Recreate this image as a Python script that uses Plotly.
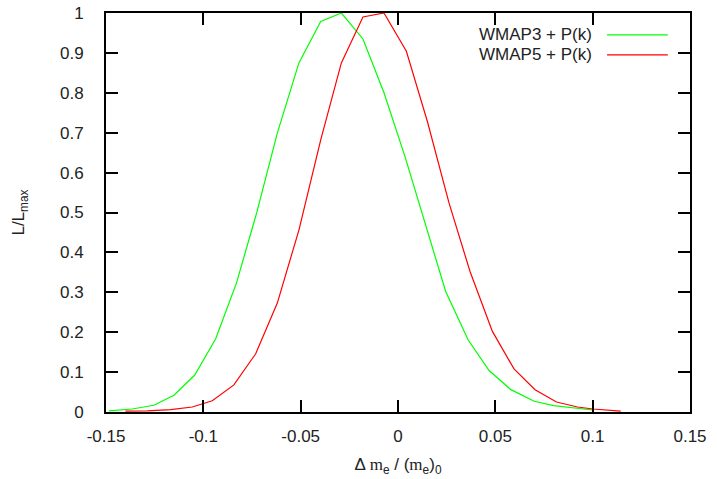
import plotly.graph_objects as go

# WMAP3 + P(k)  (green)
x_wmap3 = [-0.1485, -0.1365, -0.1254, -0.1151, -0.1045, -0.0937, -0.0830, -0.0726,
           -0.0620, -0.0509, -0.0397, -0.0291, -0.0180, -0.0072, 0.0036, 0.0145,
           0.0245, 0.0360, 0.0468, 0.0580, 0.0700, 0.0800, 0.0900, 0.0999]
y_wmap3 = [0.003, 0.0075, 0.017, 0.042, 0.092, 0.183, 0.323, 0.499,
           0.699, 0.875, 0.979, 1.0, 0.935, 0.800, 0.640, 0.465,
           0.302, 0.181, 0.104, 0.056, 0.027, 0.016, 0.010, 0.005]

# WMAP5 + P(k)  (red)
x_wmap5 = [-0.1400, -0.1288, -0.1168, -0.1057, -0.0954, -0.0843, -0.0731, -0.0620,
           -0.0509, -0.0397, -0.0291, -0.0180, -0.0072, 0.0043, 0.0151, 0.0262,
           0.0370, 0.0485, 0.0596, 0.0704, 0.0814, 0.0922, 0.1002, 0.1144]
y_wmap5 = [0.002, 0.003, 0.006, 0.0125, 0.028, 0.068, 0.146, 0.273,
           0.456, 0.682, 0.875, 0.990, 1.0, 0.904, 0.728, 0.524,
           0.352, 0.202, 0.108, 0.056, 0.025, 0.0125, 0.0075, 0.002]

series_names = ["WMAP3 + P(k)", "WMAP5 + P(k)"]
series_colors = ["#00ff00", "#ff0000"]

x_tickvals = [-0.15, -0.1, -0.05, 0, 0.05, 0.1, 0.15]
x_ticktext = ["-0.15", "-0.1", "-0.05", "0", "0.05", "0.1", "0.15"]
y_tickvals = [0, 0.1, 0.2, 0.3, 0.4, 0.5, 0.6, 0.7, 0.8, 0.9, 1]
y_ticktext = ["0", "0.1", "0.2", "0.3", "0.4", "0.5", "0.6", "0.7", "0.8", "0.9", "1"]

FONT = "Liberation Sans, Arial, sans-serif"
FS = 17

fig = go.Figure()
fig.add_trace(go.Scatter(x=x_wmap3, y=y_wmap3, mode="lines", name=series_names[0],
                         line=dict(color=series_colors[0], width=1.2)))
fig.add_trace(go.Scatter(x=x_wmap5, y=y_wmap5, mode="lines", name=series_names[1],
                         line=dict(color=series_colors[1], width=1.2)))

axis_common = dict(showgrid=False, zeroline=False, showline=True, linecolor="black",
                   linewidth=2, mirror="allticks", ticks="inside", ticklen=12,
                   tickwidth=2, tickcolor="black", automargin=False,
                   ticklabeloverflow="allow",
                   tickfont=dict(family=FONT, size=FS, color="#222"))

fig.update_xaxes(range=[-0.15, 0.15], tickvals=x_tickvals, ticktext=x_ticktext,
                 ticklabelstandoff=8,
                 title=dict(text='Δ <span style="font-family:Liberation Serif, serif">m</span><sub>e</sub> / (<span style="font-family:Liberation Serif, serif">m</span><sub>e</sub>)<sub>0</sub>',
                            font=dict(family=FONT, size=FS, color="#222"), standoff=13),
                 **axis_common)
fig.update_yaxes(range=[0, 1], tickvals=y_tickvals, ticktext=y_ticktext,
                 ticklabelstandoff=17,
                 title=dict(text="L/L<sub>max</sub>", font=dict(family=FONT, size=FS, color="#222"),
                            standoff=31),
                 **axis_common)

# Legend (gnuplot style: text right-aligned, line sample to the right)
legend_y = [0.945, 0.895]
for name, color, ly in zip(series_names, series_colors, legend_y):
    fig.add_annotation(xref="paper", yref="paper", x=0.836, y=ly, text=name,
                       showarrow=False, xanchor="right", yanchor="middle",
                       font=dict(family=FONT, size=FS, color="#222"))
    fig.add_shape(type="line", xref="paper", yref="paper", x0=0.858, x1=0.962,
                  y0=ly, y1=ly, line=dict(color=color, width=1.2))

fig.update_layout(width=717, height=479, showlegend=False,
                  paper_bgcolor="white", plot_bgcolor="white",
                  margin=dict(l=106, r=27, t=13, b=67),
                  font=dict(family=FONT, size=FS, color="#222"))

# remove the default 8px page margin so the figure fills the window exactly
fig.write_html("out.html", config={"displayModeBar": False},
               post_script="document.body.style.margin='0';document.body.style.overflow='hidden';")
